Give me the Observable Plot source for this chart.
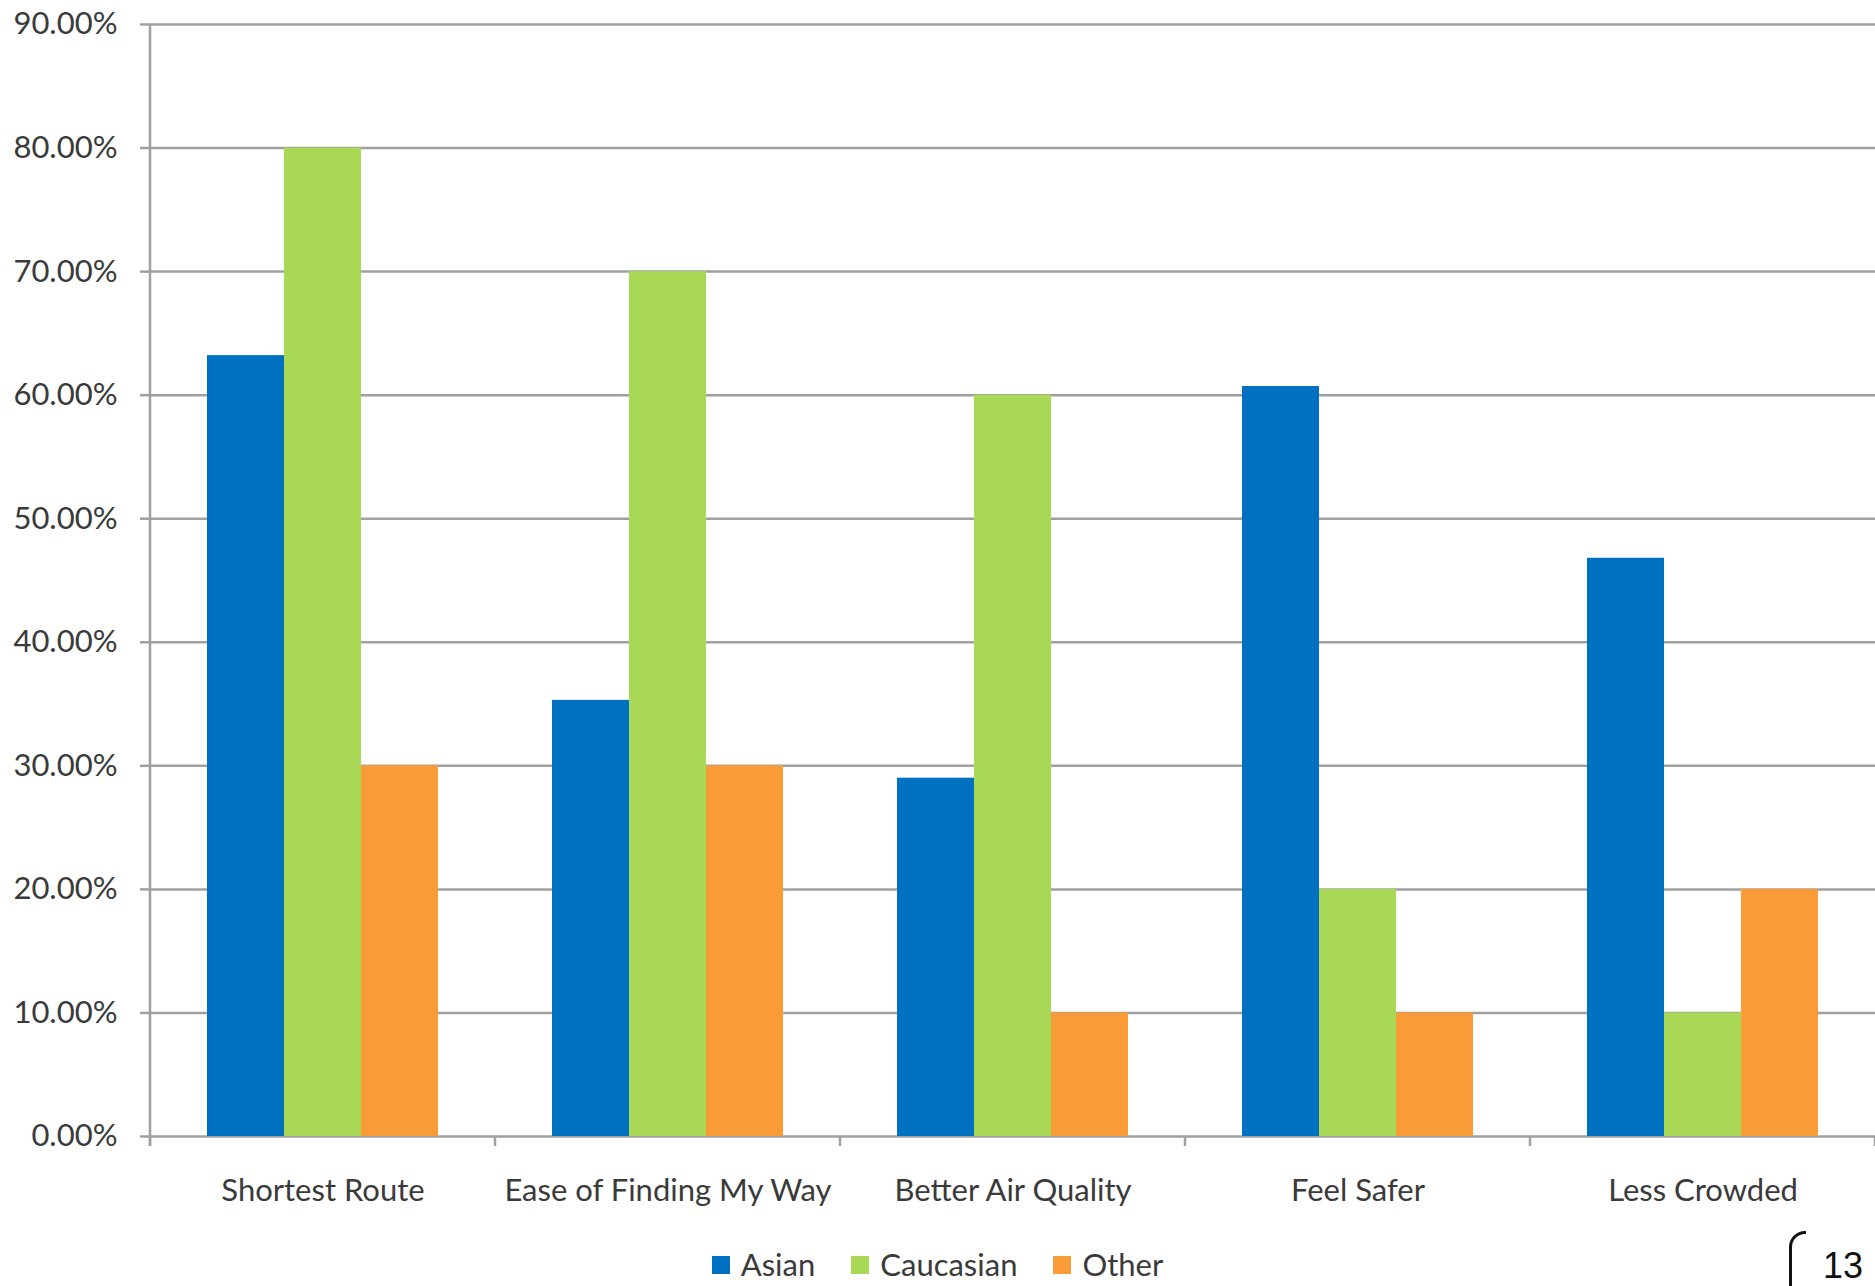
<!DOCTYPE html>
<html>
<head>
<meta charset="utf-8">
<script src="https://cdn.jsdelivr.net/npm/d3@7"></script>
<script src="https://cdn.jsdelivr.net/npm/@observablehq/plot@0.6"></script>
<style>
  html, body { margin: 0; padding: 0; background: #ffffff; }
  #wrap { position: relative; width: 1875px; height: 1286px; overflow: hidden; background: #fff; }
  #legend { position: absolute; left: 0; top: 1248px; width: 1875px; display: flex; justify-content: center;
            font-family: Lato, sans-serif; font-size: 31px; color: #3a3a3a; line-height: 33px; }
  .item { display: flex; align-items: center; margin: 0 18px; }
  .sw { width: 18px; height: 18px; margin-right: 11px; display: inline-block; }
  #page { position: absolute; left: 1823px; top: 1248px; font-family: "Liberation Sans", Arial, sans-serif; font-size: 36px; line-height: 1; color: #111; }
  #brace { position: absolute; left: 1789px; top: 1231px; width: 14px; height: 70px; border-left: 3px solid #111; border-top: 3px solid #111; border-top-left-radius: 16px; }
</style>
</head>
<body>
<div id="wrap">
  <div id="chart"></div>
  <div id="legend"></div>
  <div id="brace"></div>
  <div id="page">13</div>
</div>
<script>
const categories = ["Shortest Route", "Ease of Finding My Way", "Better Air Quality", "Feel Safer", "Less Crowded"];
const groups = ["Asian", "Caucasian", "Other"];
const asian = [63.2, 35.3, 29.0, 60.7, 46.8];
const caucasian = [80, 70, 60, 20, 10];
const other = [30, 30, 10, 10, 20];
const yTicks = [0, 10, 20, 30, 40, 50, 60, 70, 80, 90];
const colors = ["#0070c0", "#a9d856", "#f99b36"];

const series = {Asian: asian, Caucasian: caucasian, Other: other};
const data = categories.flatMap((c, i) => groups.map(g => ({category: c, group: g, value: series[g][i]})));

const gray = "#a0a0a0";
const textColor = "#3a3a3a";

const chart = Plot.plot({
  width: 1875,
  height: 1240,
  marginLeft: 150,
  marginRight: 0,
  marginTop: 24,
  marginBottom: 104,
  style: {fontFamily: "Lato, sans-serif", fontSize: "31px", color: textColor, background: "#ffffff", overflow: "visible"},
  fx: {domain: categories, padding: 0, label: null},
  x: {domain: groups, paddingInner: 0, paddingOuter: 0.74, axis: null},
  y: {domain: [0, 90], label: null, axis: null},
  color: {domain: groups, range: colors},
  marks: [
    Plot.gridY(yTicks, {stroke: gray, strokeOpacity: 1, strokeWidth: 2.5}),
    Plot.barY(data, {fx: "category", x: "group", y: "value", fill: "group", inset: 0}),
    Plot.axisY(yTicks, {tickSize: 10, tickPadding: 23, stroke: gray, strokeWidth: 2.5, fill: textColor,
      tickFormat: d => d.toFixed(2) + "%", label: null}),
    Plot.axisFx({anchor: "bottom", tickSize: 0, tickPadding: 42, label: null, fill: textColor})
  ]
});
document.getElementById("chart").appendChild(chart);

// axis line and category boundary ticks, from the library's scales
const fx = chart.scale("fx");
const y = chart.scale("y");
const svg = d3.select(chart);
const y0 = y.apply(0), yTop = y.apply(90);
const bounds = categories.map(c => fx.apply(c));
bounds.push(bounds[bounds.length - 1] + fx.bandwidth);
const g = svg.append("g").attr("stroke", gray).attr("stroke-width", 2.5);
g.append("line").attr("x1", bounds[0]).attr("x2", bounds[0]).attr("y1", yTop).attr("y2", y0 + 10);
bounds.forEach(b => g.append("line").attr("x1", b).attr("x2", b).attr("y1", y0).attr("y2", y0 + 10));

// legend
const legend = document.getElementById("legend");
groups.forEach((gName, i) => {
  const item = document.createElement("div");
  item.className = "item";
  const sw = document.createElement("span");
  sw.className = "sw";
  sw.style.background = colors[i];
  const t = document.createElement("span");
  t.textContent = gName;
  item.appendChild(sw);
  item.appendChild(t);
  legend.appendChild(item);
});
</script>
</body>
</html>
